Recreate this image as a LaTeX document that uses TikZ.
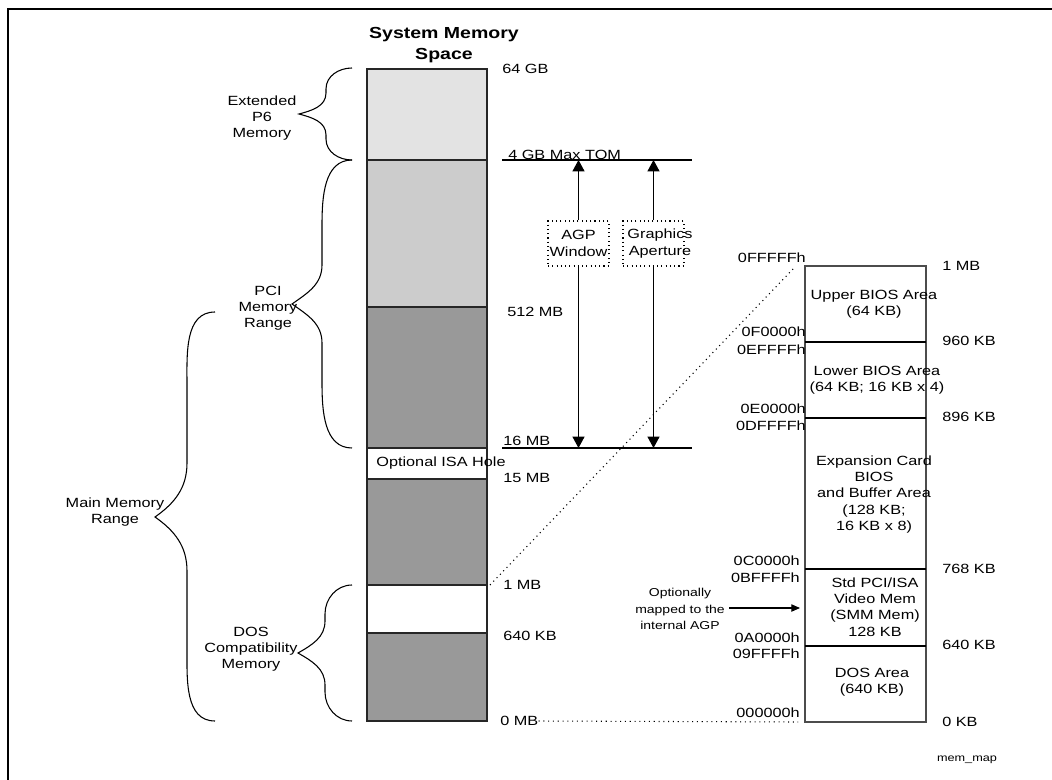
\documentclass[tikz,border=0pt]{standalone}
\usepackage{fontspec}
\setmainfont[FakeStretch=1.22]{Liberation Sans}
\usetikzlibrary{arrows.meta}
\begin{document}
\begin{tikzpicture}[x=0.75pt,y=-0.75pt,
  lbl/.style={inner sep=0pt, font=\fontsize{10}{12.2}\selectfont},
  ctr/.style={lbl, align=center},
  title/.style={inner sep=0pt, align=center, font=\fontsize{12}{15.5}\selectfont\bfseries},
  small/.style={inner sep=0pt, font=\fontsize{7.8}{9}\selectfont},
  colline/.style={draw=black!85, line width=1.1pt},
  thinline/.style={draw=black, line width=0.8pt},
  boxline/.style={draw=black!70, line width=0.9pt},
  sepline/.style={draw=black, line width=1.1pt},
  dotline/.style={draw=black, line width=0.8pt, dash pattern=on 0.8pt off 2.8pt},
  dotbox/.style={draw=black, line width=0.8pt, dash pattern=on 0.8pt off 2.4pt, inner sep=0pt, minimum width=45.75pt, minimum height=33.75pt},
  arr/.style={draw=black, line width=0.8pt, -{Triangle[length=8.5pt,width=9pt]}},
  sarr/.style={draw=black, line width=0.8pt, -{Triangle[length=6.5pt,width=5.5pt]}},
  brace/.style={draw=black, line width=0.8pt}
]
\useasboundingbox (0,0) rectangle (1052,780);
% frame (top and left edges visible)
\draw[line width=1.75pt] (8,780) -- (8,9) -- (1052,9);

% title
\node[title] (title) at (444,45) {System Memory\\Space};

% column segments
\fill[black!11] (367,69) rectangle (487,160);
\fill[black!20] (367,160) rectangle (487,307);
\fill[black!40] (367,307) rectangle (487,448);
\fill[white] (367,448) rectangle (487,479);
\fill[black!40] (367,479) rectangle (487,585);
\fill[white] (367,585) rectangle (487,633);
\fill[black!40] (367,633) rectangle (487,721);
\draw[colline] (367,69) rectangle (487,721);
\foreach \yy in {160,307,448,479,585,633} \draw[colline] (367,\yy) -- (487,\yy);
\node[lbl] (isa) at (441,463) {Optional ISA Hole};
\coordinate (col1MB) at (490,585);

% column labels
\node[lbl, anchor=west] (l64) at (502,69) {64 GB};
\node[lbl, anchor=west] (l4g) at (508,155) {4 GB Max TOM};
\node[lbl, anchor=west] (l512) at (507,312) {512 MB};
\node[lbl, anchor=west] (l16) at (503,441) {16 MB};
\node[lbl, anchor=west] (l15) at (503,478) {15 MB};
\node[lbl, anchor=west] (l1m) at (503,585) {1 MB};
\node[lbl, anchor=west] (l640) at (503,636) {640 KB};
\node[lbl, anchor=west] (l0) at (500,721) {0 MB};

% TOM and 16MB lines
\coordinate (tomA) at (502,160); \coordinate (tomB) at (692,160);
\coordinate (mbA) at (502,448); \coordinate (mbB) at (692,448);
\draw[thinline] (tomA) -- (tomB);
\draw[thinline] (mbA) -- (mbB);

% AGP window and graphics aperture
\node[dotbox] (agp) at (578.5,243.5) {};
\node[ctr] (agpt) at (578.5,243.5) {AGP\\Window};
\node[dotbox] (gfx) at (653.5,243.5) {};
\node[ctr] (gfxt) at (660,243.5) {Graphics\\Aperture};
\draw[arr] (agp.north) -- (agp.north |- tomA);
\draw[arr] (agp.south) -- (agp.south |- mbA);
\draw[arr] (gfx.north) -- (gfx.north |- tomA);
\draw[arr] (gfx.south) -- (gfx.south |- mbA);

% braces
\draw[brace] (352,68) to[out=180,in=90] (326,89) -- (326,93) to[out=-90,in=15] (299,114)
  to[out=-15,in=90] (326,135) -- (326,139) to[out=-90,in=180] (352,160);
\draw[brace] (352,160) to[out=180,in=90] (322,225) -- (322,265) to[out=-90,in=35] (292,304)
  to[out=-35,in=90] (322,343) -- (322,383) to[out=-90,in=180] (352,448);
\draw[brace] (215,312) to[out=180,in=90] (187,385) -- (187,463) to[out=-90,in=35] (155,517)
  to[out=-35,in=90] (187,571) -- (187,649) to[out=-90,in=180] (215,721);
\draw[brace] (352,585) to[out=180,in=90] (325,614) -- (325,621) to[out=-90,in=30] (298,653)
  to[out=-30,in=90] (325,685) -- (325,692) to[out=-90,in=180] (352,721);
\node[ctr] (ext) at (262,118) {Extended\\P6\\Memory};
\node[ctr] (pci) at (268,308) {PCI\\Memory\\Range};
\node[ctr] (mainm) at (115,512) {Main Memory\\Range};
\node[ctr] (dos) at (251,649) {DOS\\Compatibility\\Memory};

% right box
\draw[boxline] (805,266) rectangle (926,722);
\draw[sepline] (805,342) -- (926,342);
\draw[sepline] (805,418) -- (926,418);
\draw[sepline] (805,569) -- (926,569);
\draw[sepline] (805,646) -- (926,646);
\node[ctr] (ubios) at (874,304.5) {Upper BIOS Area\\(64 KB)};
\node[ctr] (lbios) at (877,380) {Lower BIOS Area\\(64 KB; 16 KB x 4)};
\node[ctr] (exp) at (874,494.5) {Expansion Card\\BIOS\\and Buffer Area\\(128 KB;\\16 KB x 8)};
\node[ctr] (vid) at (875,607) {Std PCI/ISA\\Video Mem\\(SMM Mem)\\128 KB};
\node[ctr] (dosa) at (872,682) {DOS Area\\(640 KB)};

% hex labels
\node[lbl, anchor=east] (h1) at (806,258) {0FFFFFh};
\node[lbl, anchor=east] (h2) at (806,332) {0F0000h};
\node[lbl, anchor=east] (h3) at (806,350) {0EFFFFh};
\node[lbl, anchor=east] (h4) at (806,409) {0E0000h};
\node[lbl, anchor=east] (h5) at (806,426) {0DFFFFh};
\node[lbl, anchor=east] (h6) at (800,561) {0C0000h};
\node[lbl, anchor=east] (h7) at (800,578) {0BFFFFh};
\node[lbl, anchor=east] (h8) at (800,638) {0A0000h};
\node[lbl, anchor=east] (h9) at (800,654) {09FFFFh};
\node[lbl, anchor=east] (h10) at (800,713) {000000h};

% size labels
\node[lbl, anchor=west] (s1) at (942,266) {1 MB};
\node[lbl, anchor=west] (s2) at (942,341) {960 KB};
\node[lbl, anchor=west] (s3) at (942,417) {896 KB};
\node[lbl, anchor=west] (s4) at (942,569) {768 KB};
\node[lbl, anchor=west] (s5) at (942,645) {640 KB};
\node[lbl, anchor=west] (s6) at (942,722) {0 KB};

% dotted mapping lines
\coordinate (rtop) at (794,268);
\coordinate (rbot) at (798,722);
\draw[dotline] (col1MB) -- (rtop);
\draw[dotline] (l0.east) -- (rbot);

% optionally mapped
\node[inner sep=0pt, align=center, font=\fontsize{8.6}{12.2}\selectfont] (opt) at (680,609) {Optionally\\mapped to the\\internal AGP};
\coordinate (optA) at (729,608);
\coordinate (optB) at (800,608);
\draw[sarr] (optA) -- (optB);

\node[small] (mm) at (967,760) {mem\_map};
\end{tikzpicture}
\end{document}
